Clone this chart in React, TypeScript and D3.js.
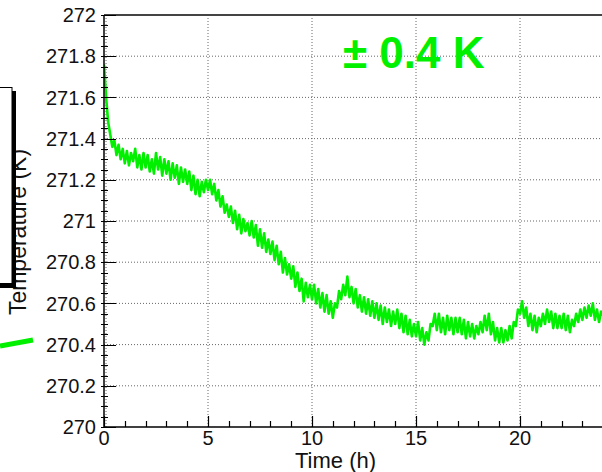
import React, { useEffect, useRef } from "react";
import * as d3 from "d3";

// temperature readings, one every 0.1 h from t = 0 to t = 24 h
const STEP = 0.1;
const temps = [
  // 0 h
  271.76, 271.60, 271.48, 271.42, 271.36, 271.39, 271.32, 271.37, 271.30, 271.35,
  // 1 h
  271.28, 271.34, 271.27, 271.33, 271.29, 271.35, 271.26, 271.32, 271.25, 271.33,
  // 2 h
  271.26, 271.32, 271.24, 271.30, 271.23, 271.33, 271.25, 271.31, 271.22, 271.30,
  // 3 h
  271.23, 271.29, 271.20, 271.28, 271.21, 271.27, 271.18, 271.26, 271.19, 271.25,
  // 4 h
  271.18, 271.24, 271.15, 271.22, 271.13, 271.20, 271.12, 271.19, 271.14, 271.20,
  // 5 h
  271.15, 271.20, 271.13, 271.18, 271.10, 271.15, 271.07, 271.12, 271.04, 271.08,
  // 6 h
  271.02, 271.07, 270.99, 271.05, 270.96, 271.03, 270.94, 271.01, 270.95, 270.99,
  // 7 h
  270.93, 271.00, 270.92, 270.98, 270.88, 270.96, 270.87, 270.94, 270.85, 270.91,
  // 8 h
  270.84, 270.90, 270.81, 270.88, 270.79, 270.85, 270.75, 270.82, 270.74, 270.79,
  // 9 h
  270.72, 270.78, 270.68, 270.75, 270.66, 270.72, 270.61, 270.70, 270.63, 270.69,
  // 10 h
  270.62, 270.69, 270.60, 270.67, 270.58, 270.65, 270.56, 270.64, 270.55, 270.61,
  // 11 h
  270.53, 270.60, 270.58, 270.66, 270.62, 270.69, 270.64, 270.73, 270.63, 270.68,
  // 12 h
  270.60, 270.67, 270.58, 270.64, 270.56, 270.63, 270.55, 270.62, 270.54, 270.61,
  // 13 h
  270.53, 270.60, 270.52, 270.59, 270.50, 270.58, 270.51, 270.57, 270.49, 270.56,
  // 14 h
  270.50, 270.57, 270.48, 270.55, 270.46, 270.54, 270.45, 270.52, 270.44, 270.50,
  // 15 h
  270.44, 270.51, 270.42, 270.48, 270.40, 270.46, 270.42, 270.50, 270.49, 270.55,
  // 16 h
  270.47, 270.55, 270.46, 270.53, 270.45, 270.54, 270.47, 270.53, 270.45, 270.53,
  // 17 h
  270.46, 270.53, 270.45, 270.52, 270.43, 270.51, 270.44, 270.50, 270.43, 270.49,
  // 18 h
  270.45, 270.51, 270.46, 270.54, 270.47, 270.55, 270.45, 270.51, 270.42, 270.48,
  // 19 h
  270.41, 270.48, 270.41, 270.47, 270.42, 270.49, 270.43, 270.51, 270.49, 270.57,
  // 20 h
  270.55, 270.61, 270.53, 270.58, 270.49, 270.55, 270.47, 270.54, 270.46, 270.53,
  // 21 h
  270.49, 270.55, 270.50, 270.57, 270.51, 270.56, 270.48, 270.55, 270.48, 270.54,
  // 22 h
  270.48, 270.55, 270.47, 270.54, 270.46, 270.52, 270.49, 270.55, 270.51, 270.57,
  // 23 h
  270.52, 270.58, 270.53, 270.59, 270.54, 270.60, 270.52, 270.57, 270.51, 270.56,
  270.54,
];

const yTicks = [270, 270.2, 270.4, 270.6, 270.8, 271, 271.2, 271.4, 271.6, 271.8, 272];
const xTicks = [0, 5, 10, 15, 20];
const xTitle = "Time (h)";
const yTitle = "Temperature (K)";
const note = "\u00b1 0.4 K";

const W = 602;
const H = 472;
const GREEN = "#00f000";
const FONT = "'Liberation Sans', Arial, sans-serif";

const App = () => {
  const ref = useRef<SVGSVGElement>(null);

  useEffect(() => {
    const svg = d3.select(ref.current).attr("width", W).attr("height", H);
    svg.selectAll("*").remove();

    const left = 104, top = 15, bottom = 427;

    const x = d3.scaleLinear().domain([0, 25]).range([left, left + 25 * 20.8]);
    const y = d3.scaleLinear().domain([270, 272]).range([bottom, top]);

    svg.append("rect").attr("width", W).attr("height", H).attr("fill", "#fff");

    svg.append("defs").append("clipPath").attr("id", "plot")
      .append("rect").attr("x", left).attr("y", top).attr("width", W - left).attr("height", bottom - top);

    // grid
    const grid = svg.append("g").attr("stroke", "#666").attr("stroke-dasharray", "1,2").attr("stroke-width", 1);
    grid.selectAll("line.v").data(xTicks).enter().append("line")
      .attr("x1", d => x(d) + (d === 0 ? 2 : 0)).attr("x2", d => x(d) + (d === 0 ? 2 : 0))
      .attr("y1", top).attr("y2", bottom);
    grid.selectAll("line.h").data(yTicks.filter(d => d > 270 && d < 272)).enter().append("line")
      .attr("x1", left).attr("x2", W).attr("y1", d => y(d)).attr("y2", d => y(d));

    // data
    const line = d3.line<number>().x((_, i) => x(i * STEP)).y(d => y(d));
    svg.append("path")
      .datum(temps)
      .attr("clip-path", "url(#plot)")
      .attr("fill", "none")
      .attr("stroke", GREEN)
      .attr("stroke-width", 2.6)
      .attr("stroke-linejoin", "round")
      .attr("d", line);

    // frame
    svg.append("line").attr("x1", left).attr("x2", W).attr("y1", top).attr("y2", top)
      .attr("stroke", "#444").attr("stroke-width", 2);
    svg.append("line").attr("x1", left).attr("x2", left).attr("y1", top).attr("y2", bottom)
      .attr("stroke", "#000").attr("stroke-width", 1.5);
    svg.append("line").attr("x1", left).attr("x2", W).attr("y1", bottom).attr("y2", bottom)
      .attr("stroke", "#000").attr("stroke-width", 1.5);

    // y ticks
    const yMinor = d3.range(0, 41).map(i => 270 + i * 0.05);
    svg.append("g").selectAll("line").data(yMinor).enter().append("line")
      .attr("x1", left - 3).attr("x2", left + 4)
      .attr("y1", d => Math.round(y(d)) + 0.5).attr("y2", d => Math.round(y(d)) + 0.5)
      .attr("stroke", "#000");
    svg.append("g").selectAll("line").data(yTicks).enter().append("line")
      .attr("x1", left - 3).attr("x2", left + 12)
      .attr("y1", d => Math.round(y(d)) + 0.5).attr("y2", d => Math.round(y(d)) + 0.5)
      .attr("stroke", "#000");
    svg.append("g").selectAll("text").data(yTicks).enter().append("text")
      .attr("x", 96).attr("y", d => y(d)).attr("dy", "0.36em")
      .attr("text-anchor", "end").attr("font-family", FONT).attr("font-size", 20).attr("fill", "#111")
      .text(d => d3.format("")(+d.toFixed(1)));

    // x ticks
    const xMinor = d3.range(0, 25);
    svg.append("g").selectAll("line").data(xMinor).enter().append("line")
      .attr("x1", d => Math.round(x(d)) + 0.5).attr("x2", d => Math.round(x(d)) + 0.5)
      .attr("y1", bottom).attr("y2", d => bottom - (d % 5 === 0 ? 11 : 6))
      .attr("stroke", "#000").attr("stroke-width", 1.2);
    svg.append("g").selectAll("text").data(xTicks).enter().append("text")
      .attr("x", d => x(d)).attr("y", 445)
      .attr("text-anchor", "middle").attr("font-family", FONT).attr("font-size", 20).attr("fill", "#111")
      .text(d => d);

    svg.append("text").attr("x", 295).attr("y", 468)
      .attr("font-family", FONT).attr("font-size", 22).attr("fill", "#111").text(xTitle);

    svg.append("text").attr("transform", "translate(26,232) rotate(-90)")
      .attr("text-anchor", "middle").attr("font-family", FONT).attr("font-size", 23).attr("fill", "#111")
      .text(yTitle);

    // legend box (partly off the page) with shadow
    svg.append("rect").attr("x", -20).attr("y", 91).attr("width", 36).attr("height", 197).attr("fill", "#000");
    svg.append("rect").attr("x", -20).attr("y", 87.5).attr("width", 32).attr("height", 196)
      .attr("fill", "#fff").attr("stroke", "#000").attr("stroke-width", 1);

    // legend line
    svg.append("line").attr("x1", 0).attr("y1", 346).attr("x2", 33).attr("y2", 340)
      .attr("stroke", GREEN).attr("stroke-width", 5);

    svg.append("text").attr("x", 343).attr("y", 68)
      .attr("font-family", FONT).attr("font-weight", "bold").attr("font-size", 44).attr("fill", GREEN)
      .text(note);
  }, []);

  return <svg ref={ref} style={{ position: "absolute", left: 0, top: 0 }}></svg>;
};

export default App;
